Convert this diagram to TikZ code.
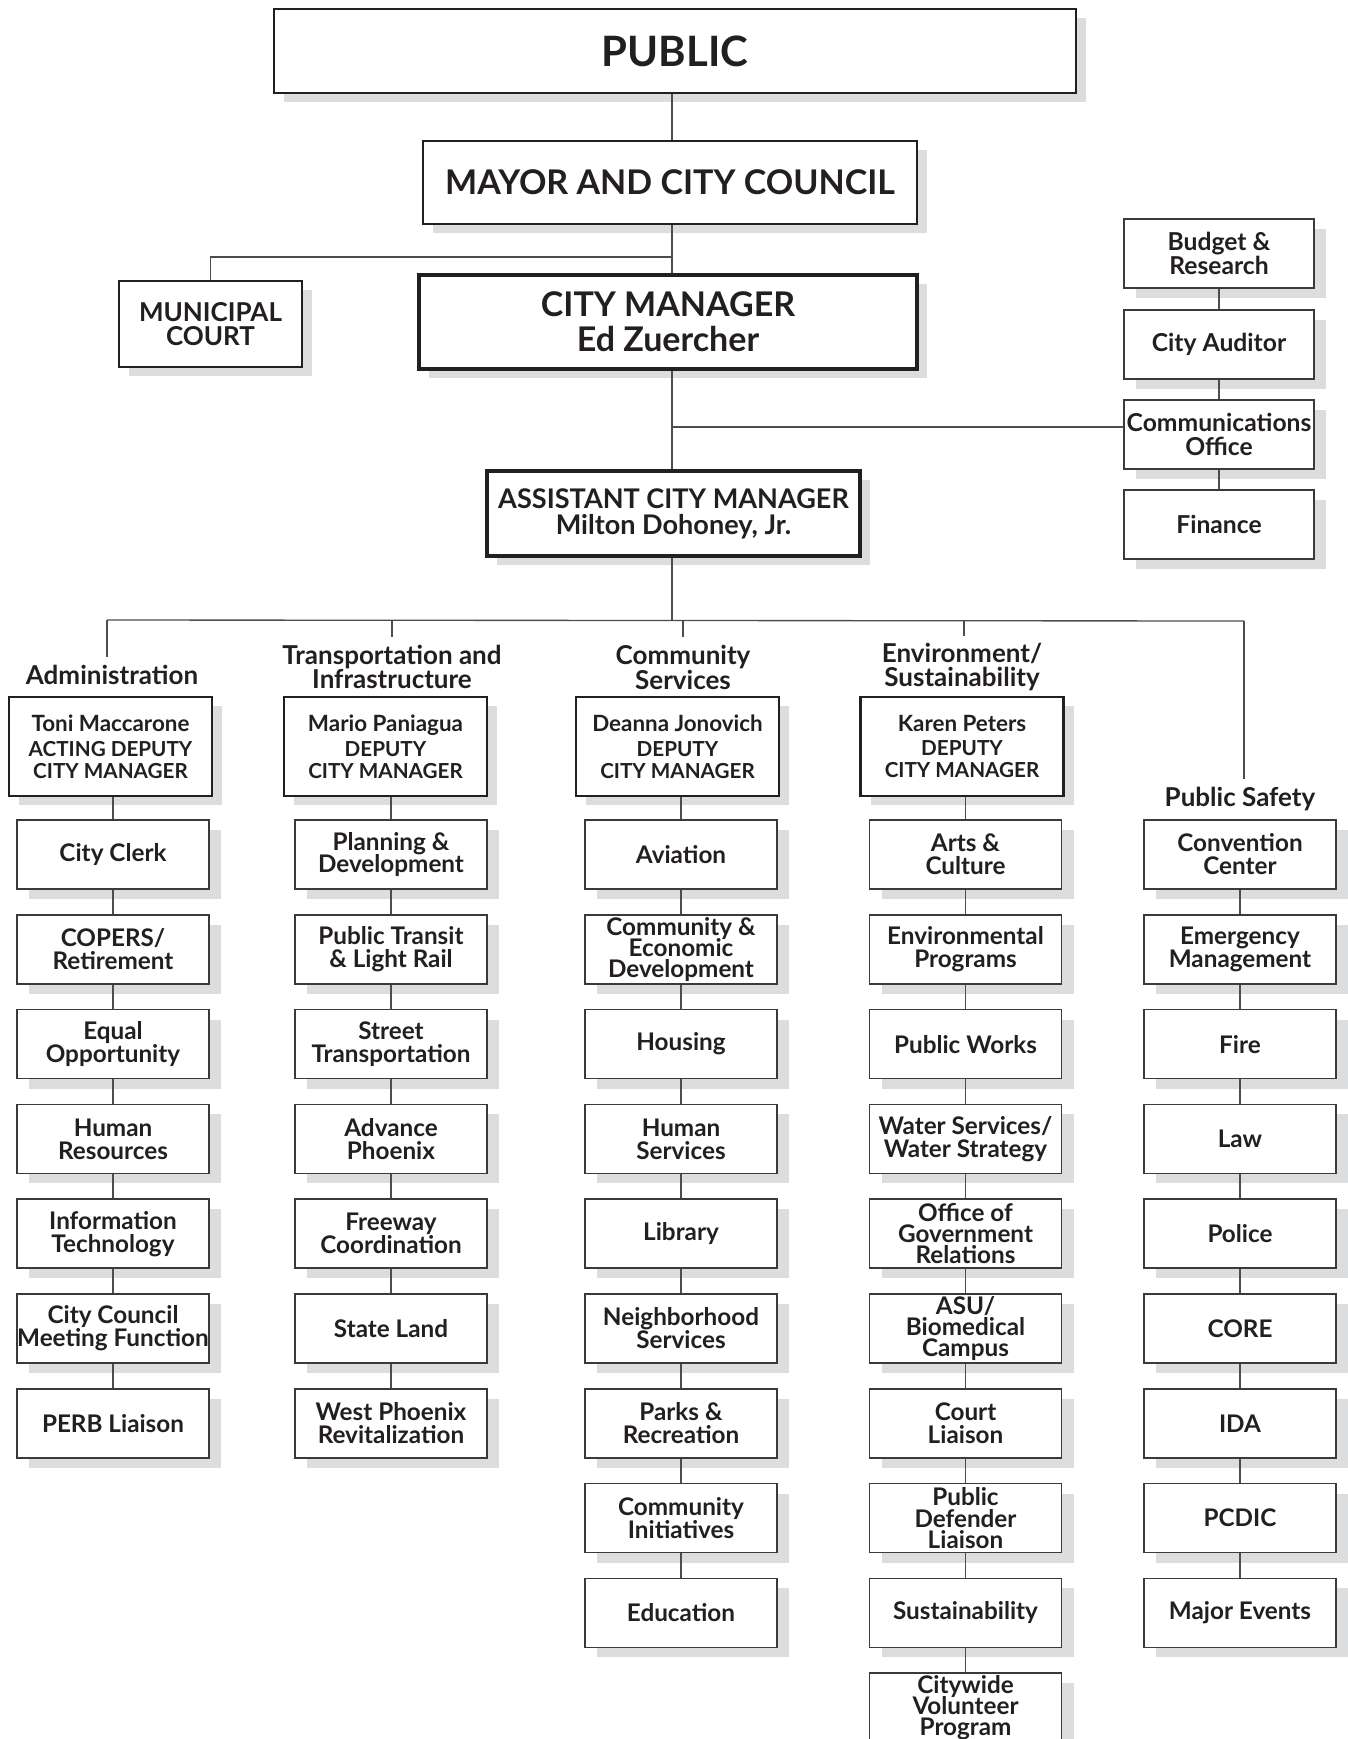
\documentclass[tikz,border=0pt]{standalone}
\usepackage{fontspec}
\setmainfont{Lato}
\usetikzlibrary{shadows}

\definecolor{ink}{HTML}{231F20}
\definecolor{rule}{HTML}{3A3A3A}
\definecolor{wirecol}{HTML}{4D4D4D}
\definecolor{shade}{HTML}{DCDDDF}

\newcommand{\dcmname}[1]{{\fontsize{16.8}{16.5}\selectfont #1}}

\tikzset{
  card/.style={draw=rule, fill=white, inner sep=0pt, align=center, text=ink},
  lowshadow/.style={drop shadow={shadow xshift=9pt, shadow yshift=-7.5pt, fill=shade, opacity=1}},
  highshadow/.style={drop shadow={shadow xshift=7.5pt, shadow yshift=-6.75pt, fill=shade, opacity=1}},
  unit/.style={card, lowshadow, line width=1.1pt, minimum width=144pt, minimum height=51.75pt,
    font=\fontsize{18.2}{17.2}\selectfont\bfseries},
  office/.style={card, lowshadow, line width=1.1pt, minimum width=142.5pt, minimum height=51.75pt,
    font=\fontsize{18.5}{18}\selectfont\bfseries},
  deputy/.style={card, highshadow, draw=ink, line width=2.2pt, minimum width=152.25pt, minimum height=74.25pt,
    font=\fontsize{15.5}{16.5}\selectfont\bfseries},
  chief/.style={card, highshadow, draw=ink},
  wire/.style={draw=wirecol, line width=1pt},
  dept/.style={text=ink, align=center, inner sep=0pt, outer ysep=6pt,
    font=\fontsize{19.5}{17.5}\selectfont\bfseries}
}

\begin{document}
\begin{tikzpicture}[x=0.75pt, y=-0.75pt]
  \fill[white] (0,0) rectangle (1347,1739);
  \useasboundingbox (0,0) rectangle (1347,1739);

  % executive boxes
  \node[chief, line width=2pt, minimum width=601.5pt, minimum height=63pt,
        font=\fontsize{31.4}{32}\selectfont\bfseries] (public) at (675,51) {PUBLIC};
  \node[chief, line width=1.9pt, minimum width=370.5pt, minimum height=62.25pt,
        font=\fontsize{25.5}{26}\selectfont\bfseries] (mayor) at (670,182.5) {MAYOR AND CITY COUNCIL};
  \node[chief, line width=1.7pt, minimum width=137.25pt, minimum height=64.5pt,
        font=\fontsize{19.5}{18}\selectfont\bfseries] (court) at (210.5,324) {MUNICIPAL\\COURT};
  \node[chief, line width=2.6pt, minimum width=373.5pt, minimum height=70.5pt,
        font=\fontsize{25.5}{26}\selectfont\bfseries] (cm) at (668,322) {CITY MANAGER\\Ed Zuercher};
  \node[chief, line width=2.4pt, minimum width=279.75pt, minimum height=63.75pt,
        font=\fontsize{20.3}{19.5}\selectfont\bfseries] (acm) at (673.5,513.5) {ASSISTANT CITY MANAGER\\Milton Dohoney, Jr.};

  % offices reporting to the city manager
  \node[office] (budget)  at (1219,253.5) {Budget \&\\Research};
  \node[office] (auditor) at (1219,344.5) {City Auditor};
  \node[office] (comm)    at (1219,434.5) {Communications\\Office};
  \node[office] (finance) at (1219,524.5) {Finance};

  % department group headings
  \node[dept] (h1) at (112,675)  {Administration};
  \node[dept] (h2) at (392,667)  {Transportation and\\Infrastructure};
  \node[dept] (h3) at (683,667)  {Community\\Services};
  \node[dept] (h4) at (962,667)  {Environment/\\Sustainability};
  \node[dept] (h5) at (1240,799) {Public Safety};

  % deputy city managers
  \node[deputy] (d1) at (110.5,746.5) {\dcmname{Toni Maccarone}\\[2pt]ACTING DEPUTY\\CITY MANAGER};
  \node[deputy] (d2) at (385.5,746.5) {\dcmname{Mario Paniagua}\\[2pt]DEPUTY\\CITY MANAGER};
  \node[deputy] (d3) at (677.5,746.5) {\dcmname{Deanna Jonovich}\\[2pt]DEPUTY\\CITY MANAGER};
  \node[deputy] (d4) at (962,746.5)   {\dcmname{Karen Peters}\\[2pt]DEPUTY\\CITY MANAGER};

  % departments, one column per group
  \foreach \txt [count=\k from 0] in {{City Clerk},{COPERS/\\Retirement},{Equal\\Opportunity},
      {Human\\Resources},{Information\\Technology},{City Council\\Meeting Function},{PERB Liaison}}
    {\pgfmathsetmacro\yy{854.5+94.8*\k}\node[unit] (a\k) at (113,\yy) {\txt};}
  \foreach \txt [count=\k from 0] in {{Planning \&\\Development},{Public Transit\\\& Light Rail},
      {Street\\Transportation},{Advance\\Phoenix},{Freeway\\Coordination},{State Land},
      {West Phoenix\\Revitalization}}
    {\pgfmathsetmacro\yy{854.5+94.8*\k}\node[unit] (b\k) at (391,\yy) {\txt};}
  \foreach \txt [count=\k from 0] in {{Aviation},{Community \&\\[-1.3pt]Economic\\[-1.3pt]Development},{Housing},
      {Human\\Services},{Library},{Neighborhood\\Services},{Parks \&\\Recreation},
      {Community\\Initiatives},{Education}}
    {\pgfmathsetmacro\yy{854.5+94.8*\k}\node[unit] (c\k) at (681,\yy) {\txt};}
  \foreach \txt [count=\k from 0] in {{Arts \&\\Culture},{Environmental\\Programs},{Public Works},
      {Water Services/\\Water Strategy},{Office of\\[-1.3pt]Government\\[-1.3pt]Relations},
      {ASU/\\[-1.3pt]Biomedical\\[-1.3pt]Campus},
      {Court\\Liaison},{Public\\[-1.3pt]Defender\\[-1.3pt]Liaison},{Sustainability},
      {Citywide\\[-1.3pt]Volunteer\\[-1.3pt]Program}}
    {\pgfmathsetmacro\yy{854.5+94.8*\k}\node[unit] (e\k) at (965.5,\yy) {\txt};}
  \foreach \txt [count=\k from 0] in {{Convention\\Center},{Emergency\\Management},{Fire},{Law},
      {Police},{CORE},{IDA},{PCDIC},{Major Events}}
    {\pgfmathsetmacro\yy{854.5+94.8*\k}\node[unit] (f\k) at (1240,\yy) {\txt};}

  % junction points on the main spine
  \coordinate (spine) at (672,0);
  \coordinate (mj) at (672,257);
  \coordinate (cj) at (672,427);
  \coordinate (bj) at (672,621);
  \coordinate (g1) at (107,620);
  \coordinate (g2) at (392,621);
  \coordinate (g3) at (683,621);
  \coordinate (g4) at (964,621);
  \coordinate (g5) at (1244,621);

  % reporting lines at the top
  \draw[wire] (public.south -| spine) -- (mayor.north -| spine);
  \draw[wire] (mayor.south -| spine) -- (cm.north -| spine);
  \draw[wire] (mj) -| (court.north);
  \draw[wire] (cm.south -| spine) -- (acm.north -| spine);
  \draw[wire] (cj) -- (cj -| comm.west);
  \draw[wire] (budget.south) -- (auditor.north);
  \draw[wire] (auditor.south) -- (comm.north);
  \draw[wire] (comm.south) -- (finance.north);

  % branch to the department groups
  \draw[wire] (acm.south -| spine) -- (bj);
  \draw[wire] (g1) -- (g5);
  \draw[wire] (g1) -- (g1 |- h1.north);
  \draw[wire] (g2) -- (g2 |- h2.north);
  \draw[wire] (g3) -- (g3 |- h3.north);
  \draw[wire] (g4) -- (g4 |- h4.north);
  \draw[wire] (g5) -- (g5 |- h5.north);

  % deputies to their first department
  \draw[wire] (a0.north |- d1.south) -- (a0.north);
  \draw[wire] (b0.north |- d2.south) -- (b0.north);
  \draw[wire] (c0.north |- d3.south) -- (c0.north);
  \draw[wire] (e0.north |- d4.south) -- (e0.north);

  % links down each column
  \foreach \k [remember=\k as \j (initially 0)] in {1,...,6} {\draw[wire] (a\j.south) -- (a\k.north);}
  \foreach \k [remember=\k as \j (initially 0)] in {1,...,6} {\draw[wire] (b\j.south) -- (b\k.north);}
  \foreach \k [remember=\k as \j (initially 0)] in {1,...,8} {\draw[wire] (c\j.south) -- (c\k.north);}
  \foreach \k [remember=\k as \j (initially 0)] in {1,...,9} {\draw[wire] (e\j.south) -- (e\k.north);}
  \foreach \k [remember=\k as \j (initially 0)] in {1,...,8} {\draw[wire] (f\j.south) -- (f\k.north);}
\end{tikzpicture}
\end{document}
